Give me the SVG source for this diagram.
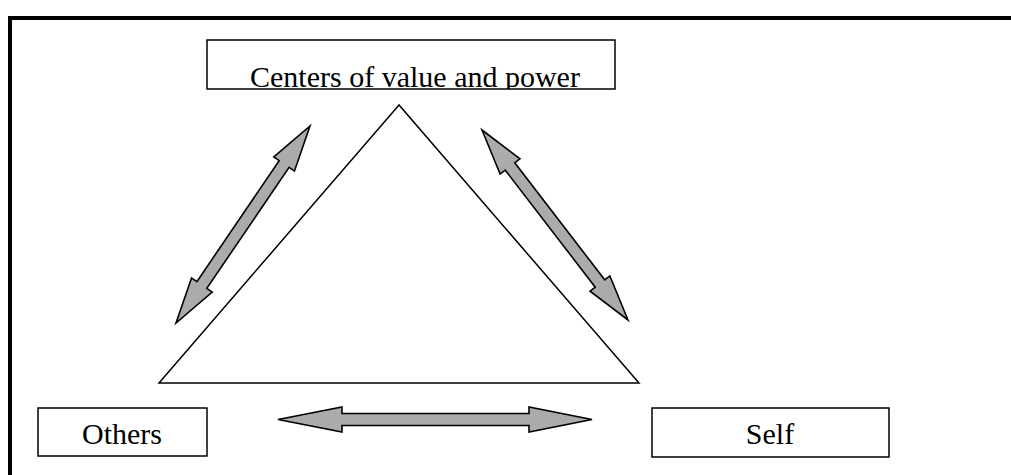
<svg xmlns="http://www.w3.org/2000/svg" width="1011" height="475" viewBox="0 0 1011 475">
  <defs>
    <style>
      .box { fill: #ffffff; stroke: #000000; stroke-width: 1.5; }
      .label { font-family: "Liberation Serif", "Times New Roman", serif; font-size: 30px; fill: #000000; text-anchor: middle; }
      .arrow { fill: #ababab; stroke: #000000; stroke-width: 1.6; stroke-linejoin: miter; }
      .tri { fill: none; stroke: #000000; stroke-width: 1.5; }
    </style>
    <clipPath id="clipTop">
      <rect x="207" y="40" width="408" height="49"/>
    </clipPath>
  </defs>
  <rect x="0" y="0" width="1011" height="475" fill="#ffffff"/>
  <rect id="frame" x="10" y="18" width="1010" height="470" fill="none" stroke="#000000" stroke-width="4"/>

  <g id="triangle">
    <polygon class="tri" points="399,105 159,383 639,383"/>
  </g>

  <g id="node-centers">
    <rect class="box" x="207" y="40" width="408" height="49"/>
    <text class="label" x="415" y="87" clip-path="url(#clipTop)">Centers of value and power</text>
  </g>

  <g id="node-others">
    <rect class="box" x="38" y="408" width="169" height="48"/>
    <text class="label" x="122" y="444">Others</text>
  </g>

  <g id="node-self">
    <rect class="box" x="652" y="408" width="237" height="49"/>
    <text class="label" x="770" y="444">Self</text>
  </g>

  <g id="connectors">
    <polygon class="arrow" points="310,126 294.46,171.06 289.09,167.4 206.83,288.34 212.2,292 176,323 191.54,277.94 196.91,281.6 279.17,160.66 273.8,157"/>
    <polygon class="arrow" points="482,130 519.94,158.86 514.79,162.82 604.73,279.86 609.88,275.9 628,320 590.06,291.14 595.21,287.18 505.27,170.14 500.12,174.1"/>
    <polygon class="arrow" points="278,419.5 342,407 342,413.5 529,413.5 529,407 592,419.5 529,432 529,425.5 342,425.5 342,432"/>
  </g>
</svg>
